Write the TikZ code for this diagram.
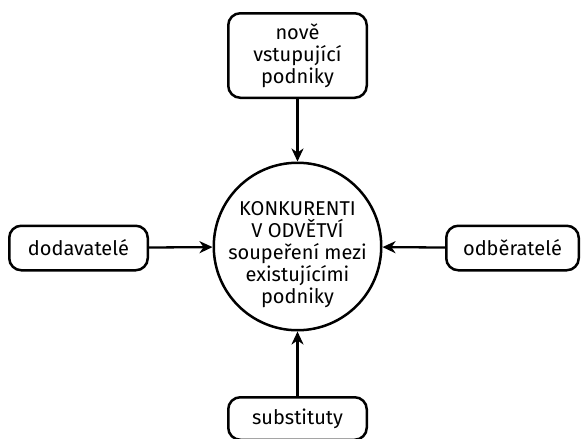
\documentclass[tikz,border=0pt]{standalone}
\usepackage{fontspec}
\setmainfont{Fira Sans}
\usetikzlibrary{arrows.meta}
\begin{document}
\begin{tikzpicture}[x=1pt,y=1pt,
  txt/.style={font=\fontsize{20}{21.9}\selectfont},
  box/.style={draw, line width=2.5pt, rounded corners=12pt, align=center, inner sep=0pt, txt},
  hub/.style={draw, circle, line width=2.5pt, minimum size=167.5pt, inner sep=0pt},
  hubtext/.style={align=center, inner sep=0pt, txt},
  arr/.style={line width=2.3pt, -{Stealth[length=13pt,width=12pt,inset=4pt]}}]
\useasboundingbox (0,0) rectangle (581,-439);
\node[hub] (hub) at (297.5,-246.5) {};
\node[hubtext] (hubt) at (297.5,-254.5) {KONKURENTI\\V ODVĚTVÍ\\soupeření mezi\\existujícími\\podniky};
\node[box, minimum width=138.5pt, minimum height=84.5pt] (new) at (297.5,-55.5) {nově\\vstupující\\podniky};
\node[box, minimum width=138.5pt, minimum height=44.5pt] (sup) at (78.5,-248) {dodavatelé};
\node[box, minimum width=132.5pt, minimum height=44.5pt] (buy) at (512.5,-248) {odběratelé};
\node[box, minimum width=138.5pt, minimum height=42.5pt] (sub) at (297.5,-418.5) {substituty};
\draw[arr] (new) -- (hub);
\draw[arr] (sup) -- (hub);
\draw[arr] (buy) -- (hub);
\draw[arr] (sub) -- (hub);
\end{tikzpicture}
\end{document}
